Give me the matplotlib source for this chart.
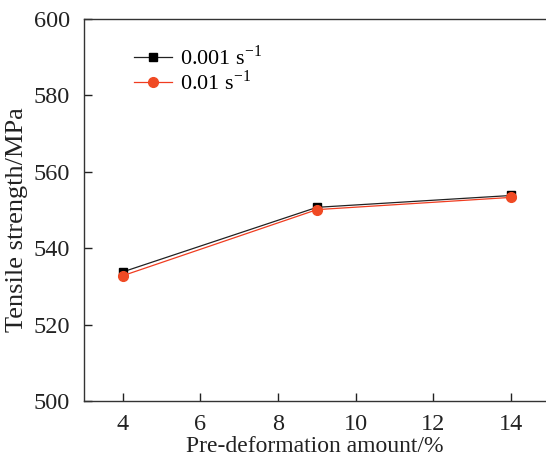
import numpy as np
import matplotlib.pyplot as plt

plt.rcParams['font.family'] = ['Liberation Serif', 'DejaVu Serif']
plt.rcParams['mathtext.fontset'] = 'custom'
plt.rcParams['mathtext.rm'] = 'Liberation Serif'

pre_def = [4, 9, 14]
ts_0001 = [533.8, 550.7, 553.8]
ts_001 = [532.8, 550.1, 553.3]

fig = plt.figure(figsize=(5.46, 4.61), dpi=100)
ax = fig.add_axes([84/546, 60/461, 1 - 84/546, (401-19)/461])

ax.plot(pre_def, ts_0001, '-s', color='#222222', lw=0.9, ms=6, mfc='black', mec='black',
        label=r'0.001 s$^{\mathregular{-1}}$')
ax.plot(pre_def, ts_001, '-o', color='#f03c20', lw=0.9, ms=7, mfc='#f04a24', mec='#f04a24',
        label=r'0.01 s$^{\mathregular{-1}}$')

ax.set_xlim(3, 14.9)
ax.set_ylim(500, 600)
ax.set_xticks([4, 6, 8, 10, 12, 14])
ax.set_yticks([500, 520, 540, 560, 580, 600])
ax.tick_params(direction='in', length=6, width=1, labelsize=17.5, colors='#222222')
ax.tick_params(axis='x', pad=9)
ax.tick_params(axis='y', pad=10)
ax.spines['right'].set_visible(False)
for s in ['left', 'top', 'bottom']:
    ax.spines[s].set_linewidth(1.0)
    ax.spines[s].set_color('#333333')

ax.set_xlabel('Pre-deformation amount/%', fontsize=17, labelpad=1, color='#222222')
ax.set_ylabel('Tensile strength/MPa', fontsize=19, color='#222222')
ax.yaxis.set_label_coords(-0.122, 0.476)

ax.legend(loc='upper left', bbox_to_anchor=(0.09, 0.955), frameon=False, fontsize=16,
          handlelength=1.7, handletextpad=0.35, labelspacing=0.02, borderaxespad=0)

fig.savefig('out.png', dpi=100)
